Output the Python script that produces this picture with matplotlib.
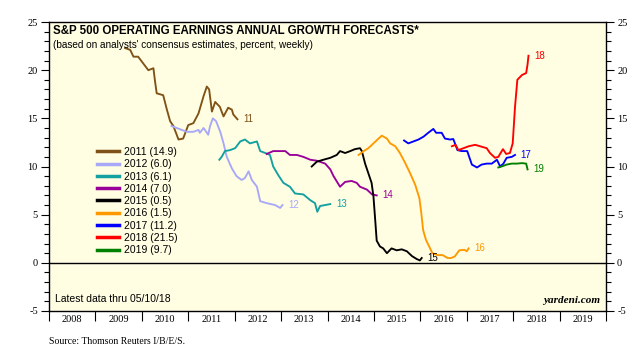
import matplotlib
matplotlib.use("Agg")
import matplotlib.pyplot as plt
from matplotlib.lines import Line2D
import numpy as np

# ---- data (x = decimal year, y = forecast growth %) ----
x2011 = [2009.64, 2009.75, 2009.82, 2009.92, 2010.03, 2010.14, 2010.25, 2010.28, 2010.32, 2010.46,
         2010.54, 2010.61, 2010.68, 2010.79, 2010.89, 2011.00, 2011.11, 2011.22, 2011.33, 2011.40,
         2011.45, 2011.51, 2011.58, 2011.68, 2011.76, 2011.86, 2011.94, 2011.97, 2012.06]
y2011 = [22.3, 22.1, 21.4, 21.4, 20.7, 20.0, 20.2, 19.0, 17.6, 17.4,
         15.9, 14.7, 14.2, 12.8, 12.9, 14.3, 14.5, 15.5, 17.3, 18.3,
         18.0, 15.7, 16.7, 16.2, 15.2, 16.1, 15.9, 15.4, 14.9]

x2012 = [2010.64, 2010.75, 2010.86, 2010.97, 2011.11, 2011.22, 2011.25, 2011.33, 2011.43, 2011.47,
         2011.53, 2011.60, 2011.69, 2011.76, 2011.83, 2011.94, 2012.04, 2012.15, 2012.22, 2012.30,
         2012.37, 2012.48, 2012.55, 2012.69, 2012.87, 2012.98, 2013.03]
y2012 = [14.2, 14.0, 13.8, 13.6, 13.6, 13.8, 13.5, 14.0, 13.3, 14.2,
         15.0, 14.7, 13.6, 12.4, 11.0, 9.8, 9.0, 8.6, 8.8, 9.5,
         8.6, 7.9, 6.4, 6.2, 6.0, 5.7, 6.0]

x2013 = [2011.67, 2011.72, 2011.79, 2011.90, 2012.01, 2012.12, 2012.22, 2012.33, 2012.48, 2012.55,
         2012.66, 2012.76, 2012.83, 2012.94, 2013.05, 2013.19, 2013.30, 2013.48, 2013.63, 2013.73,
         2013.78, 2013.84, 2013.95, 2014.06]
y2013 = [10.7, 11.0, 11.6, 11.7, 11.9, 12.6, 12.8, 12.4, 12.6, 11.6,
         11.4, 11.2, 10.0, 9.1, 8.3, 7.9, 7.2, 7.1, 6.5, 6.2,
         5.3, 5.9, 6.0, 6.1]

x2014 = [2012.69, 2012.83, 2012.98, 2013.09, 2013.19, 2013.34, 2013.48, 2013.63, 2013.77, 2013.95,
         2014.06, 2014.13, 2014.27, 2014.38, 2014.52, 2014.63, 2014.70, 2014.85, 2014.96, 2015.06]
y2014 = [11.3, 11.6, 11.6, 11.6, 11.2, 11.2, 11.0, 10.7, 10.6, 10.3,
         9.7, 9.0, 7.9, 8.4, 8.5, 8.3, 7.9, 7.6, 7.1, 7.0]

x2015 = [2013.66, 2013.77, 2013.91, 2014.06, 2014.20, 2014.27, 2014.38, 2014.49, 2014.59, 2014.70,
         2014.74, 2014.81, 2014.88, 2014.95, 2014.99, 2015.03, 2015.06, 2015.13, 2015.20, 2015.28,
         2015.38, 2015.49, 2015.60, 2015.71, 2015.82, 2015.92, 2015.99, 2016.03]
y2015 = [10.0, 10.5, 10.7, 10.9, 11.2, 11.6, 11.4, 11.6, 11.8, 11.9,
         11.6, 10.3, 9.3, 8.3, 6.9, 4.3, 2.3, 1.7, 1.5, 1.0,
         1.5, 1.3, 1.4, 1.2, 0.7, 0.4, 0.25, 0.5]

x2016 = [2014.67, 2014.78, 2014.88, 2014.99, 2015.10, 2015.17, 2015.28, 2015.35, 2015.46, 2015.56,
         2015.67, 2015.78, 2015.89, 2015.98, 2016.02, 2016.06, 2016.12, 2016.19, 2016.26, 2016.37,
         2016.48, 2016.59, 2016.66, 2016.74, 2016.84, 2016.95, 2017.00, 2017.04]
y2016 = [11.2, 11.6, 11.9, 12.4, 12.9, 13.2, 12.9, 12.4, 12.1, 11.4,
         10.4, 9.3, 8.1, 6.7, 5.2, 3.4, 2.4, 1.7, 1.0, 0.8,
         0.8, 0.5, 0.5, 0.65, 1.3, 1.35, 1.2, 1.5]

x2017 = [2015.65, 2015.74, 2015.85, 2015.96, 2016.07, 2016.17, 2016.28, 2016.34, 2016.46, 2016.53,
         2016.64, 2016.71, 2016.80, 2016.89, 2017.01, 2017.11, 2017.22, 2017.32, 2017.43, 2017.54,
         2017.65, 2017.72, 2017.79, 2017.86, 2017.97, 2018.04]
y2017 = [12.7, 12.4, 12.6, 12.8, 13.1, 13.5, 13.9, 13.5, 13.5, 12.9,
         12.8, 12.85, 11.7, 11.6, 11.6, 10.2, 9.9, 10.2, 10.3, 10.3,
         10.7, 10.0, 10.3, 10.9, 11.0, 11.2]

x2018 = [2016.68, 2016.76, 2016.82, 2016.93, 2017.04, 2017.18, 2017.29, 2017.43, 2017.50, 2017.61,
         2017.68, 2017.78, 2017.85, 2017.93, 2017.99, 2018.04, 2018.09, 2018.19, 2018.28, 2018.31,
         2018.33]
y2018 = [12.1, 12.25, 11.7, 11.9, 12.1, 12.25, 12.1, 11.9, 11.4, 10.9,
         11.0, 11.8, 11.3, 11.4, 12.4, 16.2, 19.0, 19.5, 19.7, 20.6,
         21.5]

x2019 = [2017.68, 2017.75, 2017.86, 2017.97, 2018.08, 2018.19, 2018.28, 2018.31]
y2019 = [9.9, 10.0, 10.2, 10.3, 10.3, 10.35, 10.3, 9.7]

years = ["2011", "2012", "2013", "2014", "2015", "2016", "2017", "2018", "2019"]
last_values = ["14.9", "6.0", "6.1", "7.0", "0.5", "1.5", "11.2", "21.5", "9.7"]
end_labels = ["11", "12", "13", "14", "15", "16", "17", "18", "19"]
colors = ["#7f5217", "#a8a8f8", "#12a0a0", "#990099", "#000000",
          "#ff9900", "#0000ff", "#ff0000", "#008000"]
xs = [x2011, x2012, x2013, x2014, x2015, x2016, x2017, x2018, x2019]
ys = [y2011, y2012, y2013, y2014, y2015, y2016, y2017, y2018, y2019]

year_ticks = list(range(2008, 2021))
year_labels = [str(y) for y in range(2008, 2020)]

# ---- figure ----
fig = plt.figure(figsize=(6.39, 3.59), dpi=100)
ax = fig.add_axes([49 / 639, 1 - 311 / 359, (606 - 49) / 639, (311 - 22) / 359])
ax.set_facecolor("#fffde2")

for x, y, c, lab in zip(xs, ys, colors, end_labels):
    ax.plot(x, y, color=c, lw=1.35, solid_joinstyle="round")
    ax.annotate(lab, (x[-1], y[-1]), xytext=(4, 0), textcoords="offset points",
                color=c, fontsize=7, va="center", ha="left", family="Liberation Sans")

ax.axhline(0, color="black", lw=1.0)

ax.set_xlim(2008, 2020)
ax.set_ylim(-5, 25)

serif = "Liberation Serif"
ax.set_yticks(range(-5, 26, 5))
ax.set_yticks(range(-5, 26, 1), minor=True)
ax.set_yticklabels([str(v) for v in range(-5, 26, 5)], family=serif, fontsize=7.5)
ax.tick_params(axis="y", which="both", left=True, right=True, labelleft=True, labelright=True,
               direction="out", width=0.8, color="black")
ax.tick_params(axis="y", which="major", length=6, pad=2)
ax.tick_params(axis="y", which="minor", length=3.5)

ax.set_xticks(year_ticks)
ax.set_xticklabels([])
ax.set_xticks([y + 0.5 for y in range(2008, 2020)], minor=True)
ax.set_xticklabels(year_labels, minor=True, family=serif, fontsize=7.5)
ax.tick_params(axis="x", which="major", length=7, width=0.8, direction="out")
ax.tick_params(axis="x", which="minor", length=0, pad=3)

for s in ax.spines.values():
    s.set_linewidth(1.0)

# legend
handles = [Line2D([0], [0], color=c, lw=2.5) for c in colors]
labels = [f"{y} ({v})" for y, v in zip(years, last_values)]
leg = ax.legend(handles, labels, loc="upper left", bbox_to_anchor=(0.079, 0.582),
                frameon=False, handlelength=2.1, handletextpad=0.5, labelspacing=0.22,
                prop={"family": "Liberation Sans", "size": 7.5}, borderaxespad=0)

# titles and notes
ax.text(0.008, 0.968, "S&P 500 OPERATING EARNINGS ANNUAL GROWTH FORECASTS*",
        transform=ax.transAxes, fontsize=8.3, fontweight="bold", family="Liberation Sans",
        va="center", ha="left")
ax.text(0.008, 0.922, "(based on analysts' consensus estimates, percent, weekly)",
        transform=ax.transAxes, fontsize=7.2, family="Liberation Sans", va="center", ha="left")
ax.text(0.011, 0.04, "Latest data thru 05/10/18", transform=ax.transAxes, fontsize=7.5,
        family="Liberation Sans", va="center", ha="left")
ax.text(0.99, 0.02, "yardeni.com", transform=ax.transAxes, fontsize=8, family=serif,
        style="italic", fontweight="bold", va="bottom", ha="right")
fig.text(49 / 639, 1 - 341 / 359, "Source: Thomson Reuters I/B/E/S.", fontsize=7,
         family=serif, va="center", ha="left")

fig.savefig("out.png", dpi=100)
